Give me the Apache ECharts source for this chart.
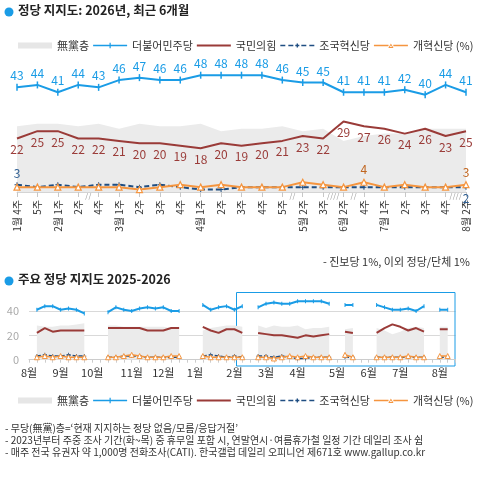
<!DOCTYPE html>
<html>
<head>
  <meta charset="utf-8">
  <title>정당 지지도</title>
  <script src="https://cdn.jsdelivr.net/npm/echarts@6/dist/echarts.min.js"></script>
  <style>
    html, body { margin: 0; padding: 0; background: #fff; }
    #chart { width: 484px; height: 484px; }
  </style>
</head>
<body>
<div id="chart"></div>
<script type="text/javascript">
var FONT = "'Noto Sans CJK KR', 'Noto Sans', sans-serif";

// 상단: 최근 6개월 (주간)
var topWeeks = ['1월 4주', '5주', '2월 1주', '2주', '4주', '3월 1주', '2주', '3주', '4주', '4월 1주', '2주', '3주',
  '4주', '5주', '5월 2주', '3주', '6월 2주', '4주', '7월 1주', '2주', '3주', '4주', '8월 2주'];
var topNoParty = [27, 28, 28, 27, 28, 26, 28, 27, 27, 28, 25, 26, 26, 27, 25, 26, 21, 23, 24, 24, 26, 26, 26];
var topDem     = [43, 44, 41, 44, 43, 46, 47, 46, 46, 48, 48, 48, 48, 46, 45, 45, 41, 41, 41, 42, 40, 44, 41];
var topPpp     = [22, 25, 25, 22, 22, 21, 20, 20, 19, 18, 20, 19, 20, 21, 23, 22, 29, 27, 26, 24, 26, 23, 25];
var topRebuild = [3, 2, 3, 2, 3, 3, 2, 3, 2, 1, 1, 2, 2, 2, 2, 2, 2, 2, 2, 2, 2, 2, 2];
var topReform  = [2, 2, 2, 2, 2, 2, 1, 2, 3, 2, 3, 2, 2, 2, 4, 3, 2, 4, 2, 3, 2, 2, 3];
var rebuildLabelIdx = { 0: 'top', 22: 'bottom' };
var reformLabelIdx = { 17: 'top', 22: 'top' };
// 조사 쉰 주 표시 (앞 주 index, 표시)
var breakMarks = [[3, '//'], [13, '//'], [15, '////'], [16, '//'], [21, '////']];

// 하단: 2025-2026 (주간, 빈 주는 null)
var bottomMonths = ['8월', '9월', '10월', '11월', '12월', '1월', '2월', '3월', '4월', '5월', '6월', '7월', '8월'];
var bottomWeekCounts = [4, 4, 5, 4, 4, 5, 4, 4, 5, 4, 4, 5, 3];
var botNoParty = [null, 28, 27, 27, 28, 28, 29, 30, null, null, 28, 28, 27, 27, 27, 27, 27, 27, 26, 27, null, null,
  24, 26, 27, 28, 28, 27, null, 28, 26, 28, 27, 27, 28, 25, 26, 26, 27, null, 25, 26, null, null,
  26, 24, 21, 23, 26, 27, 26, null, 27, 27, null];
var botDem = [null, 41, 44, 44, 41, 42, 41, 38, null, null, 39, 43, 41, 40, 42, 43, 42, 43, 40, 40, null, null,
  45, 41, 43, 44, 41, 44, null, 43, 46, 47, 46, 46, 48, 48, 48, 48, 46, null, 45, 45, null, null,
  45, 43, 41, 41, 42, 40, 44, null, 41, 41, null];
var botPpp = [null, 22, 26, 23, 24, 24, 24, 24, null, null, 26, 26, 26, 26, 26, 24, 24, 24, 26, 26, null, null,
  27, 24, 22, 25, 25, 22, null, 22, 21, 20, 20, 19, 18, 20, 19, 20, 21, null, 23, 22, null, null,
  22, 26, 29, 27, 24, 26, 23, null, 25, 25, null];
var botRebuild = [null, 3, 4, 3, 3, 4, 3, 3, null, null, 2, 2, 3, 3, 3, 2, 2, 2, 2, 2, null, null,
  3, 4, 3, 2, 3, 2, null, 3, 3, 2, 3, 2, 1, 1, 2, 2, 2, null, 2, 2, null, null,
  2, 2, 2, 2, 2, 2, 2, null, 2, 2, null];
var botReform = [null, 2, 3, 2, 3, 2, 2, 2, null, null, 2, 2, 3, 4, 3, 2, 2, 2, 3, 3, null, null,
  3, 2, 2, 2, 2, 2, null, 2, 2, 1, 2, 3, 2, 3, 2, 2, 2, null, 4, 2, null, null,
  2, 2, 2, 2, 3, 2, 2, null, 3, 3, null];

var notes = [
  '- 무당(無黨)층=‘현재 지지하는 정당 없음/모름/응답거절’',
  '- 2023년부터 주중 조사 기간(화~목) 중 휴무일 포함 시, 연말연시·여름휴가철 일정 기간 데일리 조사 쉼',
  '- 매주 전국 유권자 약 1,000명 전화조사(CATI). 한국갤럽 데일리 오피니언 제671호 www.gallup.co.kr'
];

var C_GRAY = '#EBEBEB', C_DEM = '#1A9CE6', C_PPP = '#9A3B38', C_REB = '#1F4E82', C_REF = '#F5953F';

// 하단 카테고리 (월 + 주)
var bottomWeeks = [];
var monthStart = [];
for (var m = 0; m < bottomMonths.length; m++) {
  monthStart.push(bottomWeeks.length);
  for (var w = 1; w <= bottomWeekCounts[m]; w++) {
    bottomWeeks.push(bottomMonths[m] + ' ' + w + '주');
  }
}

var tickSym = 'path://M0,0H1V10H0Z';
var plusSym = 'path://M4,0H6V4H10V6H6V10H4V6H0V4H4Z';
// 범례 아이콘 (34x6 박스, 모서리 점으로 크기 고정)
var box = 'M0,0H0.01V0.01H0Z M33.99,5.99H34V6H33.99Z ';
var iconDem = 'path://' + box + 'M0,2.2H34V3.8H0Z M16.4,0.3H17.6V5.7H16.4Z';
var iconPpp = 'path://' + box + 'M0,2H34V4H0Z';
var iconReb = 'path://' + box + 'M0,2.2H5V3.8H0Z M8,2.2H13V3.8H8Z M15,2.3H19V3.7H15Z M16.3,1H17.7V5H16.3Z M21,2.2H26V3.8H21Z M29,2.2H34V3.8H29Z';
var iconRef = 'path://' + box + 'M0,2.2H14.6V3.8H0Z M19.4,2.2H34V3.8H19.4Z ' +
  'M14.4,5.4L17,1L19.6,5.4Z M15.9,4.6L18.1,4.6L17,2.7Z';

function labelled(values, idxMap, color) {
  return values.map(function (v, i) {
    if (idxMap[i]) {
      return { value: v, label: { show: true, position: idxMap[i], color: color, fontSize: 12, distance: 3, fontFamily: FONT } };
    }
    return v;
  });
}

function legendAt(top) {
  return {
    top: top, left: 13, itemWidth: 34, itemHeight: 6, itemGap: 4,
    textStyle: { fontSize: 11, color: '#333', fontFamily: FONT },
    formatter: function (name) { return name === '개혁신당' ? '개혁신당 (%)' : name; },
    data: [
      { name: '無黨층', icon: 'rect', itemStyle: { color: '#E6E6E6' } },
      { name: '더불어민주당', icon: iconDem, itemStyle: { color: C_DEM } },
      { name: '국민의힘', icon: iconPpp, itemStyle: { color: C_PPP } },
      { name: '조국혁신당', icon: iconReb, itemStyle: { color: C_REB } },
      { name: '개혁신당', icon: iconRef, itemStyle: { color: C_REF, borderWidth: 0 } }
    ]
  };
}

var chart = echarts.init(document.getElementById('chart'));

var option = {
  animation: false,
  backgroundColor: '#fff',
  legend: [legendAt(35), legendAt(390)],
  grid: [
    { left: 17, right: 18, top: 46, bottom: 292 },
    { left: 29, right: 28.4, top: 311, bottom: 124.3 }
  ],
  xAxis: [{
    gridIndex: 0, type: 'category', data: topWeeks, boundaryGap: false,
    axisLine: { lineStyle: { color: '#D4D4D4' } },
    axisTick: { length: 5, lineStyle: { color: '#C8C8C8' } },
    axisLabel: { rotate: 90, interval: 0, margin: 8, fontSize: 10, color: '#333', fontFamily: FONT }
  }, {
    gridIndex: 1, type: 'category', data: bottomWeeks, boundaryGap: false,
    axisLine: { lineStyle: { color: '#CCCCCC' } },
    axisTick: { length: 3, interval: 0, lineStyle: { color: '#CCCCCC' } },
    axisLabel: {
      margin: 8, fontSize: 11, color: '#333', fontFamily: FONT,
      interval: function (i) { return monthStart.indexOf(i) >= 0; },
      formatter: function (v) { return v.split(' ')[0]; }
    }
  }],
  yAxis: [{
    gridIndex: 0, type: 'value', min: 0, max: 60, show: false
  }, {
    gridIndex: 1, type: 'value', min: 0, max: 40, interval: 20,
    axisLine: { show: false }, axisTick: { show: false },
    axisLabel: { color: '#AAAAAA', fontSize: 11, margin: 10, fontFamily: FONT },
    splitLine: { lineStyle: { color: '#D9D9D9' } }
  }],
  series: [
    // 상단
    { name: '無黨층', type: 'line', xAxisIndex: 0, yAxisIndex: 0, data: topNoParty, symbol: 'none',
      lineStyle: { width: 0 }, itemStyle: { color: '#E6E6E6' }, areaStyle: { color: C_GRAY, opacity: 1 }, z: 1 },
    { name: '더불어민주당', type: 'line', xAxisIndex: 0, yAxisIndex: 0, data: topDem,
      symbol: tickSym, symbolSize: [1.5, 7], itemStyle: { color: C_DEM }, lineStyle: { color: C_DEM, width: 2 },
      label: { show: true, position: 'top', distance: 2, color: C_DEM, fontSize: 12, fontFamily: FONT }, z: 5 },
    { name: '국민의힘', type: 'line', xAxisIndex: 0, yAxisIndex: 0, data: topPpp,
      symbol: 'circle', symbolSize: 0, itemStyle: { color: C_PPP }, lineStyle: { color: C_PPP, width: 2 },
      label: { show: true, position: 'bottom', distance: 5, color: C_PPP, fontSize: 12, fontFamily: FONT }, z: 4 },
    { name: '조국혁신당', type: 'line', xAxisIndex: 0, yAxisIndex: 0, data: labelled(topRebuild, rebuildLabelIdx, '#2F5F93'),
      symbol: plusSym, symbolSize: 5, itemStyle: { color: C_REB }, lineStyle: { color: C_REB, width: 2, type: [5, 3] }, z: 3 },
    { name: '개혁신당', type: 'line', xAxisIndex: 0, yAxisIndex: 0, data: labelled(topReform, reformLabelIdx, '#C0651F'),
      symbol: 'triangle', symbolSize: 6, itemStyle: { color: '#fff', borderColor: C_REF, borderWidth: 1.2 },
      lineStyle: { color: C_REF, width: 2 }, z: 4 },
    // 하단
    { name: '無黨층', type: 'line', xAxisIndex: 1, yAxisIndex: 1, data: botNoParty, symbol: 'none',
      lineStyle: { width: 0 }, itemStyle: { color: '#E6E6E6' }, areaStyle: { color: C_GRAY, opacity: 1 }, z: 1 },
    { name: '더불어민주당', type: 'line', xAxisIndex: 1, yAxisIndex: 1, data: botDem, clip: false,
      symbol: tickSym, symbolSize: [1, 4], itemStyle: { color: C_DEM }, lineStyle: { color: C_DEM, width: 2 }, z: 5 },
    { name: '국민의힘', type: 'line', xAxisIndex: 1, yAxisIndex: 1, data: botPpp, clip: false,
      symbol: 'none', itemStyle: { color: C_PPP }, lineStyle: { color: C_PPP, width: 2 }, z: 4 },
    { name: '조국혁신당', type: 'line', xAxisIndex: 1, yAxisIndex: 1, data: botRebuild, clip: false,
      symbol: plusSym, symbolSize: 4, itemStyle: { color: C_REB }, lineStyle: { color: C_REB, width: 1.5, type: [4, 2] }, z: 3 },
    { name: '개혁신당', type: 'line', xAxisIndex: 1, yAxisIndex: 1, data: botReform, clip: false,
      symbol: 'triangle', symbolSize: 5, itemStyle: { color: '#fff', borderColor: C_REF, borderWidth: 1 },
      lineStyle: { color: C_REF, width: 1.5 }, z: 4 }
  ]
};
chart.setOption(option);

// 제목, 주석, 쉰 주 표시
var g = [
  { type: 'circle', shape: { cx: 9, cy: 12, r: 4.5 }, style: { fill: '#1A9CE6' } },
  { type: 'text', left: 18, top: 4, style: { text: '정당 지지도: 2026년, 최근 6개월', font: "bold 12.5px " + FONT, fill: '#222' } },
  { type: 'text', right: 14, top: 256, style: { text: '- 진보당 1%, 이외 정당/단체 1%', font: "11px " + FONT, fill: '#333' } },
  { type: 'circle', shape: { cx: 9, cy: 281, r: 4.5 }, style: { fill: '#1A9CE6' } },
  { type: 'text', left: 18, top: 273, style: { text: '주요 정당 지지도 2025-2026', font: "bold 12.5px " + FONT, fill: '#222' } },
  { type: 'rect', shape: { x: 236.5, y: 292.5, width: 218.5, height: 73.5 }, style: { fill: 'none', stroke: '#1A9CE6', lineWidth: 1 } }
];
notes.forEach(function (t, i) {
  g.push({ type: 'text', left: 5, top: 423 + i * 12, style: { text: t, font: "10px " + FONT, fill: '#333' } });
});
breakMarks.forEach(function (b) {
  var x1 = chart.convertToPixel({ xAxisIndex: 0 }, b[0]);
  var x2 = chart.convertToPixel({ xAxisIndex: 0 }, b[0] + 1);
  var y0 = chart.convertToPixel({ yAxisIndex: 0 }, 0);
  g.push({ type: 'text', x: (x1 + x2) / 2, y: y0 + 3, style: { text: b[1], font: "8px " + FONT, fill: '#9A9A9A', align: 'center', verticalAlign: 'middle' } });
});
chart.setOption({ graphic: g });
</script>
</body>
</html>
